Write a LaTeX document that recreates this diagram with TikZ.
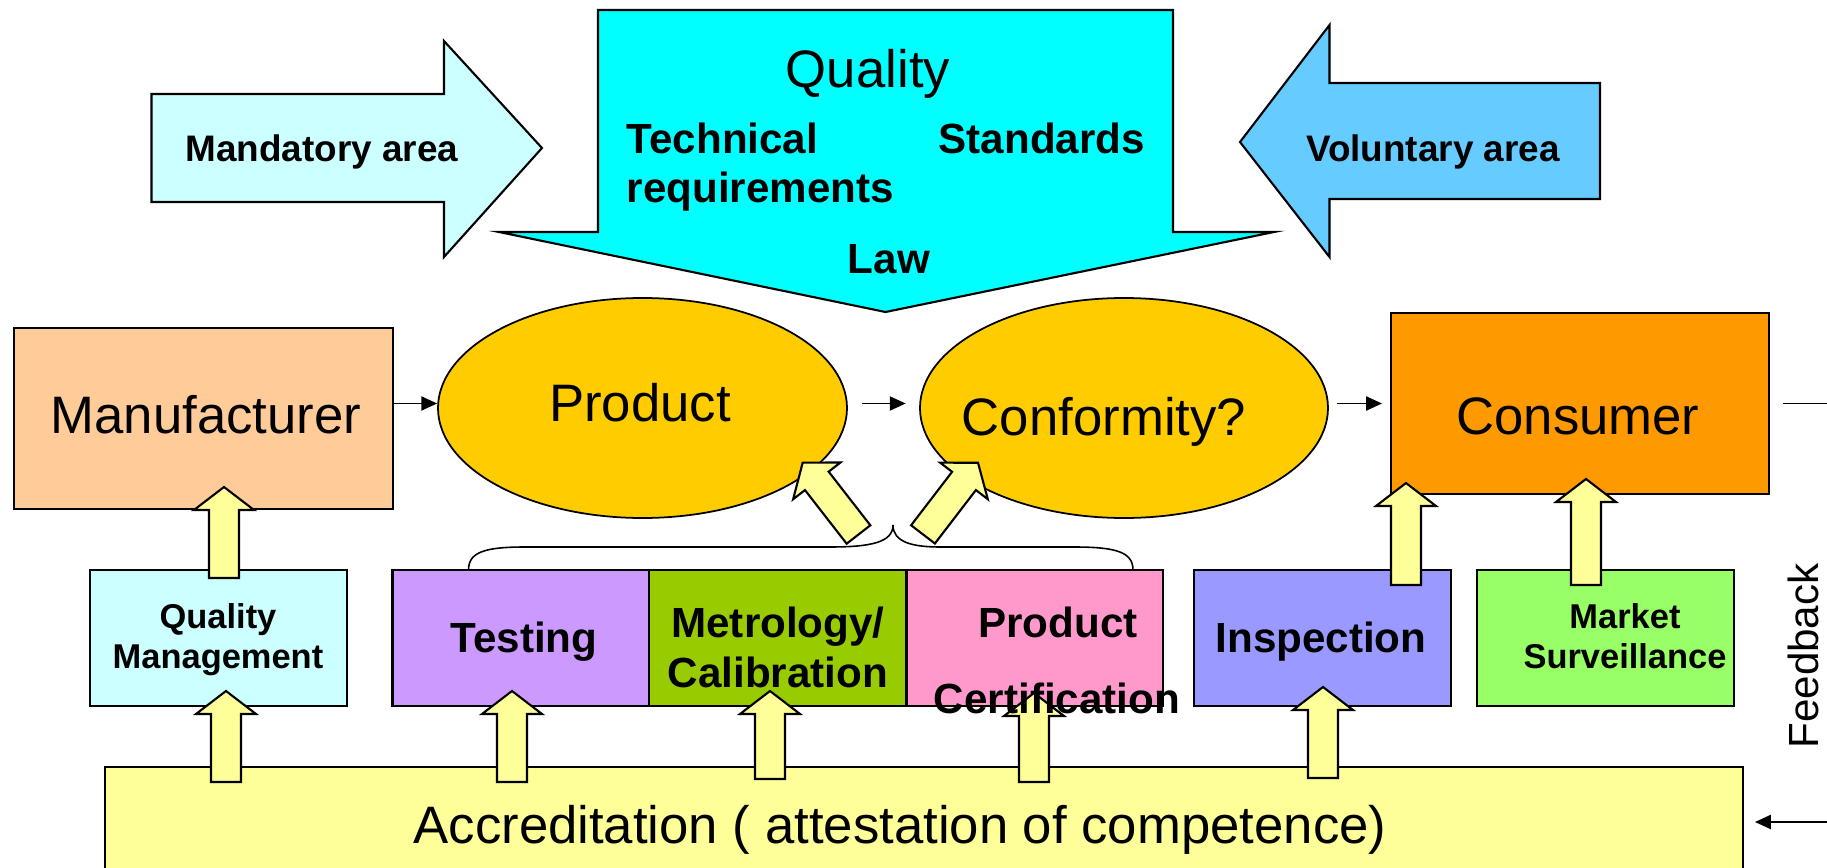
\documentclass[tikz,border=0pt]{standalone}
\usepackage{fontspec}
\setmainfont{Liberation Sans}
\usetikzlibrary{calc,arrows.meta,positioning,shapes.geometric}

\definecolor{cyancol}{HTML}{00FFFF}
\definecolor{mandcol}{HTML}{CCFFFF}
\definecolor{volcol}{HTML}{66CCFF}
\definecolor{manucol}{HTML}{FFCC99}
\definecolor{ovalcol}{HTML}{FFCC00}
\definecolor{conscol}{HTML}{FF9900}
\definecolor{testcol}{HTML}{CC99FF}
\definecolor{metrocol}{HTML}{99CC00}
\definecolor{certcol}{HTML}{FF99CC}
\definecolor{inspcol}{HTML}{9999FF}
\definecolor{marketcol}{HTML}{99FF66}
\definecolor{yelcol}{HTML}{FFFF99}

\tikzset{
  box/.style={draw, line width=0.7pt, inner sep=0pt, outer sep=0pt, minimum width=25.7mm, minimum height=13.6mm},
  oval/.style={draw, ellipse, fill=ovalcol, line width=0.5pt, inner sep=0pt, minimum width=40.9mm, minimum height=22mm},
  conn/.style={-{Triangle[length=4.5pt,width=4pt]}, line width=0.5pt},
  blockarr/.style={draw, fill=yelcol, line width=0.6pt},
  bigarr/.style={draw, line width=0.6pt},
  bigtxt/.style={font=\fontsize{15}{18}\selectfont, anchor=base, inner sep=0pt},
  boldtxt/.style={font=\bfseries\fontsize{12}{14}\selectfont, anchor=base, inner sep=0pt},
  areatxt/.style={font=\bfseries\fontsize{10.5}{12.6}\selectfont, anchor=base, inner sep=0pt},
  smalltxt/.style={font=\bfseries\fontsize{9.8}{11.4}\selectfont, anchor=base, inner sep=0pt},
  brace/.style={line width=0.45pt}
}

% yellow block arrow from #1 (tail) to #2 (tip)
\newcommand{\blockarrow}[2]{%
  \draw[blockarr] ($(#1)!1.5mm!90:(#2)$)
    -- ($($(#2)!2.3mm!(#1)$)!1.5mm!90:(#2)$)
    -- ($($(#2)!2.3mm!(#1)$)!3mm!90:(#2)$)
    -- (#2)
    -- ($($(#2)!2.3mm!(#1)$)!3mm!-90:(#2)$)
    -- ($($(#2)!2.3mm!(#1)$)!1.5mm!-90:(#2)$)
    -- ($(#1)!1.5mm!-90:(#2)$) -- cycle;}

\begin{document}
\begin{tikzpicture}[x=0.1mm, y=-0.1mm]

\useasboundingbox (0,0) rectangle (1827,868);
\clip (0,0) rectangle (1827,868);

% Draw the three big arrows
\draw[bigarr, fill=mandcol] (151.5,94) -- (444,94) -- (444,41) -- (542,148) -- (444,257) -- (444,202) -- (151.5,202) -- cycle;
\draw[bigarr, fill=volcol] (1600,83) -- (1329.5,83) -- (1329.5,25) -- (1240,142) -- (1329.5,257) -- (1329.5,199) -- (1600,199) -- cycle;
\draw[bigarr, fill=cyancol] (598,10) -- (1173,10) -- (1173,232) -- (1274,232) -- (885.5,312) -- (499,232) -- (598,232) -- cycle;

\node[areatxt] (mand) at (322,162) {Mandatory area};
\node[areatxt] (vol) at (1433,162) {Voluntary area};
\node[bigtxt] (quality) at (868,87) {Quality};
\node[boldtxt, anchor=base west] (tech) at (626,153) {Technical};
\node[boldtxt, anchor=base west] (req) at (626,202) {requirements};
\node[boldtxt, anchor=base west] (std) at (938,153) {Standards};
\node[boldtxt] (law) at (889,273) {Law};

% Middle row
\node[box, fill=manucol, minimum width=37.9mm, minimum height=18.1mm] (manu) at (203.5,418.5) {};
\node[oval] (prod) at (642.5,408) {};
\node[oval, minimum width=40.8mm] (conf) at (1124,408) {};
\node[box, fill=conscol, minimum width=37.8mm, minimum height=18.1mm] (cons) at (1580,403.5) {};

% Bottom row
\node[box, fill=mandcol] (qm) at (218.5,638) {};
\node[box, fill=testcol, minimum width=25.65mm] (test) at (520.75,638) {};
\node[box, fill=metrocol, minimum width=25.75mm, right=0pt of test] (metro) {};
\node[box, fill=certcol, minimum width=25.65mm, right=0pt of metro] (cert) {};
\node[box, fill=inspcol] (insp) at (1322.5,638) {};
\node[box, fill=marketcol] (market) at (1605.5,638) {};
\node[box, fill=yelcol, minimum width=163.8mm, minimum height=13.3mm] (accred) at (924,833.5) {};

% Connectors
\draw[conn] (manu.east |- cons.west) -- (prod.west |- cons.west);
\draw[conn, shorten <=1.4mm, shorten >=1.35mm] (prod.east |- cons.west) -- (conf.west |- cons.west);
\draw[conn, shorten <=0.85mm, shorten >=0.9mm] (conf.east |- cons.west) -- (cons.west);
\coordinate (fb) at (1900,822);
\draw[conn, shorten <=1.4mm, shorten >=1.2mm] (cons.east) -- (cons.east -| fb) -- (fb) -- (accred.east |- fb);

% Brace over the test boxes
\draw[brace] (468.5,570) .. controls (468.5,552) and (485,547) .. (525,547) -- (830,547)
  .. controls (872,547) and (893,542) .. (893,525)
  .. controls (893,542) and (912,547) .. (940,547) -- (1074,547)
  .. controls (1116,547) and (1133,552) .. (1133,570);

% Yellow arrows
\foreach \n/\x/\ya/\yb in {qmup/224/578/487, acqm/226/782/691, actest/512/782/691,
    acmetro/770/779/691, accert/1034/782/693, acinsp/1323/778/687,
    inspup/1406/585/483, marketup/1586/585/479} {
  \coordinate (\n-t) at (\x,\ya);
  \coordinate (\n-h) at (\x,\yb);
  \blockarrow{\n-t}{\n-h}
}
\coordinate (dl-t) at (858.5,534.5);
\coordinate (dl-h) at (802.7,462.7);
\coordinate (dr-t) at (923,534.4);
\coordinate (dr-h) at (978,462.7);
\blockarrow{dl-t}{dl-h}
\blockarrow{dr-t}{dr-h}

% Labels
\node[bigtxt] (manu-t) at (206,433) {Manufacturer};
\node[bigtxt] (prod-t) at (640,421) {Product};
\node[bigtxt] (conf-t) at (1104,435) {Conformity?};
\node[bigtxt] (cons-t) at (1578,434) {Consumer};
\node[smalltxt] (qm-t1) at (218,628) {Quality};
\node[smalltxt] (qm-t2) at (218,668) {Management};
\node[boldtxt] (test-t) at (524,652) {Testing};
\node[boldtxt] (metro-t1) at (778,637) {Metrology/};
\node[boldtxt] (metro-t2) at (778,687) {Calibration};
\node[boldtxt] (cert-t1) at (1058,637) {Product};
\node[boldtxt] (cert-t2) at (1057,713) {Certification};
\node[boldtxt] (insp-t) at (1321,652) {Inspection};
\node[smalltxt] (market-t1) at (1625,628) {Market};
\node[smalltxt] (market-t2) at (1625,668) {Surveillance};
\node[bigtxt] (accred-t) at (900,843) {Accreditation ( attestation of competence)};
\node[font=\fontsize{12}{14}\selectfont, rotate=90, inner sep=0pt] (feedback) at (1803,656) {Feedback};

\end{tikzpicture}
\end{document}
